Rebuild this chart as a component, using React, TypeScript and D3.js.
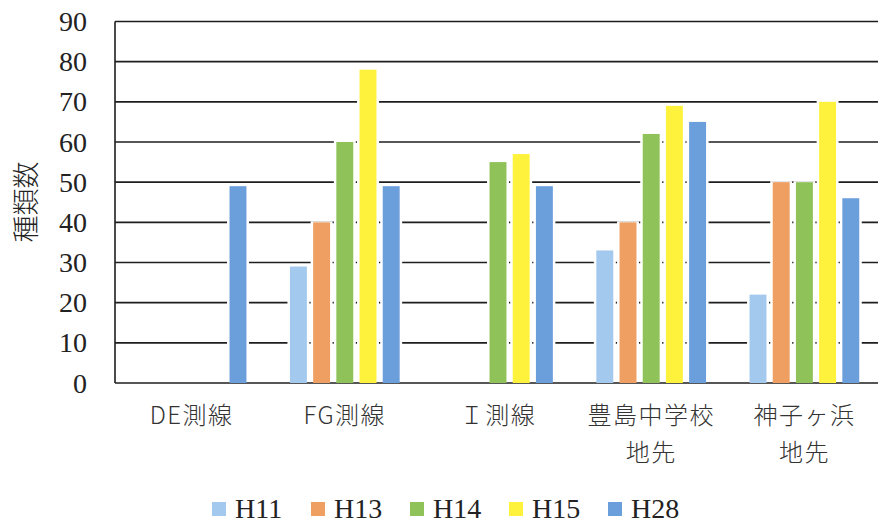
import React from "react";
import * as d3 from "d3";

// Survey sites (x categories); "\n" splits a label over two lines
const sites = ["DE測線", "FG測線", "Ｉ測線", "豊島中学校\n地先", "神子ヶ浜\n地先"];
// Survey years (series)
const years = ["H11", "H13", "H14", "H15", "H28"];
const yearColors = ["#a3c9ee", "#ef9f62", "#8fc35a", "#fff23c", "#6b9fdb"];

// Species counts per year, one value per site (null = not surveyed)
const h11: (number | null)[] = [null, 29, null, 33, 22];
const h13: (number | null)[] = [null, 40, null, 40, 50];
const h14: (number | null)[] = [null, 60, 55, 62, 50];
const h15: (number | null)[] = [null, 78, 57, 69, 70];
const h28: (number | null)[] = [49, 49, 49, 65, 46];
const seriesValues = [h11, h13, h14, h15, h28];

const yTicks = [0, 10, 20, 30, 40, 50, 60, 70, 80, 90];
const yTitle = "種類数";

const W = 878;
const H = 524;
const plot = { left: 115, right: 881, top: 21.5, bottom: 383 };

export default function App() {
  const x0 = d3
    .scaleBand<string>()
    .domain(sites)
    .range([plot.left, plot.right])
    .paddingInner(0)
    .paddingOuter(0);
  const groupW = x0.bandwidth() * 0.757;
  const x1 = d3
    .scaleBand<string>()
    .domain(years)
    .range([(x0.bandwidth() - groupW) / 2, (x0.bandwidth() + groupW) / 2])
    .paddingInner(0.27)
    .paddingOuter(0.135);
  const y = d3.scaleLinear().domain([0, 90]).range([plot.bottom, plot.top]);

  const bars: { key: string; x: number; y: number; w: number; h: number; color: string }[] = [];
  years.forEach((yr, si) => {
    seriesValues[si].forEach((v, ci) => {
      if (v == null) return;
      const bx = (x0(sites[ci]) as number) + (x1(yr) as number);
      bars.push({
        key: `${yr}-${ci}`,
        x: bx,
        y: y(v),
        w: x1.bandwidth(),
        h: y(0) - y(v),
        color: yearColors[si],
      });
    });
  });

  const legendX0 = 212;
  const legendStep = 99;
  const legendY = 518;

  return (
    <svg width={W} height={H} style={{ display: "block", position: "absolute", left: 0, top: 0, background: "#fff" }}>
      <rect x={0} y={0} width={W} height={H} fill="#fff" />
      {/* horizontal gridlines */}
      {yTicks.map((t) => (
        <line
          key={`g${t}`}
          x1={plot.left}
          x2={plot.right}
          y1={y(t)}
          y2={y(t)}
          stroke="#1e1e1e"
          strokeWidth={1.6}
        />
      ))}
      {/* vertical axis line */}
      <line x1={plot.left} x2={plot.left} y1={plot.top} y2={plot.bottom} stroke="#1e1e1e" strokeWidth={1.6} />
      {/* white halo behind each bar */}
      {bars.map((b) => (
        <rect key={`h${b.key}`} x={b.x - 2.5} y={b.y - 1} width={b.w + 5} height={b.h - 0.8} fill="#fff" />
      ))}
      {bars.map((b) => (
        <rect key={b.key} x={b.x} y={b.y} width={b.w} height={b.h} fill={b.color} />
      ))}
      {/* y tick labels */}
      {yTicks.map((t) => (
        <text
          key={`t${t}`}
          x={87}
          y={y(t) + 9.5}
          textAnchor="end"
          fontFamily="Liberation Serif"
          fontSize={28}
          fill="#222"
        >
          {t}
        </text>
      ))}
      {/* y axis title */}
      <text
        transform={`translate(36, 202) rotate(-90)`}
        textAnchor="middle"
        style={{ fontFamily: "'Noto Sans CJK JP', sans-serif", fontSize: 27, fontWeight: 300 }}
        fill="#222"
      >
        {yTitle}
      </text>
      {/* x category labels */}
      {sites.map((s) => {
        const cx = (x0(s) as number) + x0.bandwidth() / 2;
        return s.split("\n").map((line, li) => (
          <text
            key={`${s}-${li}`}
            x={cx}
            y={424 + li * 37}
            textAnchor="middle"
            style={{ fontFamily: "'Noto Sans CJK JP', sans-serif", fontSize: 24, fontWeight: 300, letterSpacing: 1.5 }}
            fill="#333"
          >
            {line}
          </text>
        ));
      })}
      {/* legend */}
      {years.map((yr, i) => {
        const lx = legendX0 + i * legendStep;
        return (
          <g key={`l${yr}`}>
            <rect x={lx} y={legendY - 16} width={14} height={14} fill={yearColors[i]} />
            <text x={lx + 23} y={legendY} fontFamily="Liberation Serif" fontSize={28} fill="#222">
              {yr}
            </text>
          </g>
        );
      })}
    </svg>
  );
}
